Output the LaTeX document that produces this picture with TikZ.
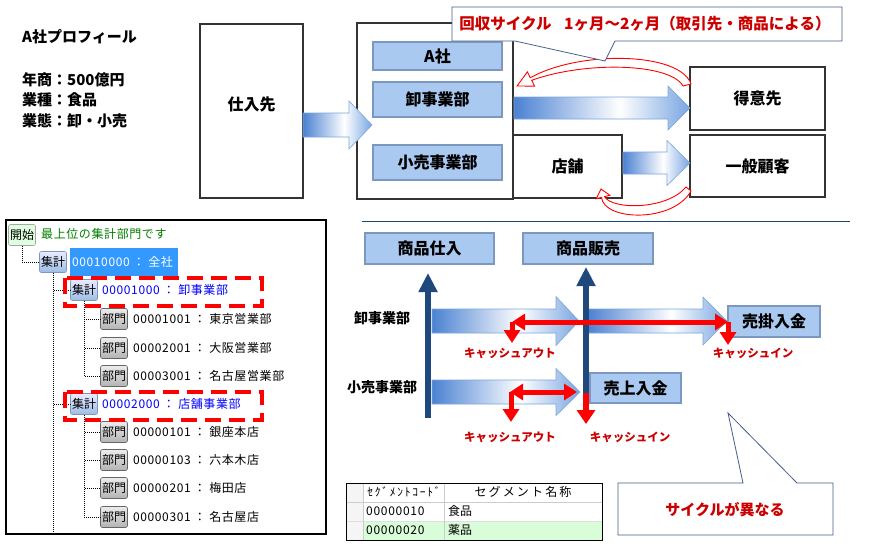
\documentclass[tikz,border=0pt]{standalone}
\usepackage{fontspec}
\setmainfont{Noto Sans CJK JP}
\usetikzlibrary{arrows.meta}
\definecolor{btnfill}{RGB}{170,201,240}
\definecolor{btnedge}{RGB}{125,152,190}
\definecolor{arrowblue}{RGB}{75,130,210}
\definecolor{arrowtip}{RGB}{120,165,225}
\definecolor{arrowedge}{RGB}{125,165,220}
\definecolor{navy}{RGB}{31,73,125}
\definecolor{redtext}{RGB}{204,0,0}
\definecolor{calloutc}{RGB}{70,95,135}
\definecolor{hlblue}{RGB}{51,153,255}
\definecolor{treegreen}{RGB}{0,128,0}
\definecolor{treeblue}{RGB}{0,0,255}
\definecolor{rowgreen}{RGB}{217,252,217}
\pgfdeclarehorizontalshading{barshade}{100bp}{color(0bp)=(arrowblue); color(25bp)=(arrowblue); color(55bp)=(white); color(75bp)=(arrowtip); color(100bp)=(arrowtip)}
\newcommand{\fsz}[1]{\fontsize{#1}{#1}\selectfont}
\newcommand{\gradarrow}[6]{%
  \shadedraw[shading=barshade, draw=arrowedge, line width=0.6pt]
    (#1,{#4-#5}) -- (#2,{#4-#5}) -- (#2,{#4-#6}) -- (#3,#4) -- (#2,{#4+#6}) -- (#2,{#4+#5}) -- (#1,{#4+#5}) -- cycle;}
\begin{document}
\begin{tikzpicture}[x=1pt,y=-1pt,
  frbox/.style={draw=black!80, line width=1.6pt, fill=white, inner sep=0pt, font=\fsz{16}\bfseries},
  bbtn/.style={fill=btnfill, draw=btnedge, line width=1.4pt, inner sep=0pt, font=\fsz{16}\bfseries},
  plbl/.style={anchor=west, inner sep=0pt, font=\fsz{15}\bfseries},
  rowlbl/.style={inner sep=0pt, font=\fsz{14}\bfseries},
  cash/.style={inner sep=0pt, text=redtext, font=\fsz{11.5}\bfseries},
  redline/.style={draw=red, line width=5pt},
  rtip/.style={-{Triangle[length=13pt,width=16pt]}},
  rtips/.style={{Triangle[length=13pt,width=16pt]}-{Triangle[length=13pt,width=16pt]}},
  navyarr/.style={draw=navy, line width=6pt, -{Triangle[length=19pt,width=18pt]}},
  callout/.style={draw=calloutc, line width=0.8pt, fill=white},
  crescent/.style={draw=red, line width=0.9pt, fill=white},
  tbtn/.style={rounded corners=2pt, minimum width=27pt, minimum height=21pt, inner sep=0pt, font=\fsz{12}, line width=0.6pt},
  tkaishi/.style={tbtn, fill=green!12!white, draw=gray!70},
  tshukei/.style={tbtn, top color=blue!8!white, bottom color=btnfill!90!navy, draw=btnedge},
  tbumon/.style={tbtn, top color=gray!15, bottom color=gray!60, draw=gray!80!black},
  ttext/.style={anchor=west, inner sep=0pt, font=\fsz{12}\addfontfeature{LetterSpace=5}},
  tdot/.style={draw=black, line width=0.6pt, dash pattern=on 1pt off 1pt},
  reddash/.style={draw=red, line width=3.5pt, dash pattern=on 16pt off 8pt},
  tcell/.style={inner sep=0pt, font=\fsz{12}}
]
\useasboundingbox (0,0) rectangle (874,550);
\fill[white] (0,0) rectangle (874,550);

% ---------- profile ----------
\node[plbl] (prof) at (22,37) {A社プロフィール};
\node[plbl] (p1) at (22,80) {年商：500億円};
\node[plbl] (p2) at (22,100) {業種：食品};
\node[plbl] (p3) at (22,121) {業態：卸・小売};

% ---------- top flow ----------
\node[frbox, minimum width=103pt, minimum height=174pt] (shiire) at (251.5,111) {};
\node[inner sep=0pt, font=\fsz{16}\bfseries] (shiiret) at (251.5,104) {仕入先};
\node[frbox, minimum width=156pt, minimum height=176pt] (asha) at (435,111) {};
\node[bbtn, minimum width=129pt, minimum height=28pt] (bA) at (437.5,56) {A社};
\node[bbtn, minimum width=129pt, minimum height=35pt] (bOroshi) at (437.5,99.5) {卸事業部};
\node[bbtn, minimum width=129pt, minimum height=35pt] (bKouri) at (437.5,162.5) {小売事業部};
\node[frbox, minimum width=109pt, minimum height=63pt] (tenpo) at (567.5,166.5) {店舗};
\node[frbox, minimum width=135pt, minimum height=63pt] (tokui) at (757.5,98.5) {得意先};
\node[frbox, minimum width=135pt, minimum height=62pt] (ippan) at (757.5,166) {一般顧客};

\gradarrow{303}{349}{372}{125}{12}{24}
\gradarrow{514}{668}{690}{108}{11}{22}
\gradarrow{623}{667}{690}{163}{11}{22.5}

% curved red arrows
\path[crescent] (530.3,77.7) .. controls (580,50) and (680,52) .. (691,84) -- (683,86)
  .. controls (670,63) and (585,61) .. (531.7,80.3) -- (534.6,86.1) -- (517,86) -- (527.4,71.9) -- cycle;
\path[crescent] (601.5,197.4) .. controls (604,221) and (673,223) .. (691,191) -- (686,187)
  .. controls (667,210) and (612,210) .. (604.5,196.6) -- (609.8,195.3) -- (601,189) -- (596.2,198.7) -- cycle;

% callout top
\draw[callout] (452,7) -- (842,7) -- (842,41) -- (615,41) -- (605,61) -- (515,41) -- (452,41) -- cycle;
\node[inner sep=0pt, text=redtext, font=\fsz{15.5}\bfseries] (cyc) at (645,24) {回収サイクル\hspace{0.8em}1ヶ月～2ヶ月（取引先・商品による）};

% separator
\coordinate (sepL) at (362,221);
\coordinate (sepR) at (850,221);
\draw[navy, line width=1pt] (sepL) -- (sepR);

% ---------- bottom flow ----------
\node[bbtn, minimum width=129pt, minimum height=31pt] (shS) at (429.5,248.5) {商品仕入};
\node[bbtn, minimum width=130pt, minimum height=31pt] (shH) at (588,248.5) {商品販売};

\node[rowlbl] (lOroshi) at (382,318) {卸事業部};
\node[rowlbl] (lKouri) at (382,387) {小売事業部};

\gradarrow{432}{556}{579}{321}{12}{24.5}
\gradarrow{588}{703}{727}{321}{12}{24}
\gradarrow{432}{556}{580}{392}{12}{23.5}

\node[bbtn, minimum width=92pt, minimum height=31pt] (urikake) at (774,321.5) {売掛入金};
\node[bbtn, minimum width=91pt, minimum height=30pt] (uriage) at (635.5,388) {売上入金};

\coordinate (v1b) at (428,418);
\coordinate (v1t) at (428,273);
\coordinate (v2b) at (586,393);
\coordinate (v2t) at (586,267);
\coordinate (v2r) at (586,424);
\draw[navyarr] (v1b) -- (v1t);
\draw[navyarr] (v2b) -- (v2t);
\draw[draw=red, line width=6pt, -{Triangle[length=14pt,width=18pt]}] (v2b) -- (v2r);

\coordinate (o1) at (512,322);
\coordinate (o2) at (728,322);
\coordinate (o1d) at (512,343);
\coordinate (o2d) at (728,345);
\coordinate (k1) at (510,392);
\coordinate (k2) at (577,392);
\coordinate (k1s) at (511,392);
\coordinate (k1d) at (511,422);
\draw[redline, rtip] (o1) -- (o1d);
\draw[redline, rtip] (o2) -- (o2d);
\draw[redline, rtips] (o1) -- (o2);
\draw[redline, rtip] (k1s) -- (k1d);
\draw[redline, rtips] (k1) -- (k2);

\node[cash] (co1) at (510,353) {キャッシュアウト};
\node[cash] (ci1) at (753,353) {キャッシュイン};
\node[cash] (co2) at (510,437) {キャッシュアウト};
\node[cash] (ci2) at (630,437) {キャッシュイン};

% callout bottom
\draw[callout] (618,483) -- (743,483) -- (728,413) -- (797,483) -- (833,483) -- (833,535) -- (618,535) -- cycle;
\node[inner sep=0pt, text=redtext, font=\fsz{15}\bfseries] (diff) at (725,510) {サイクルが異なる};

% ---------- tree ----------
\draw[black, line width=1.1pt] (6,220) rectangle (326,534);
\node[tkaishi] (k0) at (22,235) {開始};
\node[ttext, text=treegreen] (k0t) at (41,234) {最上位の集計部門です};
\node[tshukei] (s1) at (53,262) {集計};
\node[fill=hlblue, minimum width=108pt, minimum height=28pt, inner sep=0pt] (hl) at (124,262) {};
\node[ttext, text=white] (s1t) at (72,262) {00010000 ： 全社};
\node[tshukei] (s2) at (84,290) {集計};
\node[ttext, text=treeblue] (s2t) at (102,290) {00001000 ： 卸事業部};
\node[tbumon] (b1) at (114,319) {部門};
\node[ttext] (b1t) at (133,319) {00001001 ： 東京営業部};
\node[tbumon] (b2) at (114,348) {部門};
\node[ttext] (b2t) at (133,348) {00002001 ： 大阪営業部};
\node[tbumon] (b3) at (114,376) {部門};
\node[ttext] (b3t) at (133,376) {00003001 ： 名古屋営業部};
\node[tshukei] (s3) at (84,404) {集計};
\node[ttext, text=treeblue] (s3t) at (102,404) {00002000 ： 店舗事業部};
\node[tbumon] (b4) at (114,432) {部門};
\node[ttext] (b4t) at (133,432) {00000101 ： 銀座本店};
\node[tbumon] (b5) at (114,460) {部門};
\node[ttext] (b5t) at (133,460) {00000103 ： 六本木店};
\node[tbumon] (b6) at (114,488) {部門};
\node[ttext] (b6t) at (133,488) {00000201 ： 梅田店};
\node[tbumon] (b7) at (114,517) {部門};
\node[ttext] (b7t) at (133,517) {00000301 ： 名古屋店};
\coordinate (tb) at (53,533);

\draw[tdot] (k0.south) |- (s1.west);
\draw[tdot] (s1.south) -- (tb);
\draw[tdot] (s1.south) |- (s2.west);
\draw[tdot] (s1.south) |- (s3.west);
\draw[tdot] (s2.south) |- (b1.west);
\draw[tdot] (s2.south) |- (b2.west);
\draw[tdot] (s2.south) |- (b3.west);
\draw[tdot] (s3.south) |- (b4.west);
\draw[tdot] (s3.south) |- (b5.west);
\draw[tdot] (s3.south) |- (b6.west);
\draw[tdot] (s3.south) |- (b7.west);

\draw[reddash] (65,278) rectangle (262,306);
\draw[reddash] (65,392) rectangle (262,420);

% ---------- table ----------
\fill[gray!8] (346,483) rectangle (363,540);
\fill[rowgreen] (363,521) rectangle (602,540);
\draw[gray!40, line width=0.6pt] (346,502) -- (602,502);
\draw[gray!25, line width=0.6pt] (346,521) -- (602,521);
\draw[gray!40, line width=0.6pt] (363,483) -- (363,540);
\draw[gray!40, line width=0.6pt] (444,483) -- (444,540);
\draw[black, line width=1pt] (346,483) rectangle (602,540);
\node[tcell, font=\fsz{11.5}\addfontfeature{LetterSpace=15}] (h1) at (404,492) {ｾｸﾞﾒﾝﾄｺｰﾄﾞ};
\node[tcell] (h2) at (523,492) {\addfontfeature{LetterSpace=18}セグメント名称};
\node[tcell, anchor=west, font=\fsz{12}\addfontfeature{LetterSpace=6}] (r1a) at (366,511) {00000010};
\node[tcell, anchor=west] (r1b) at (448,511) {食品};
\node[tcell, anchor=west, font=\fsz{12}\addfontfeature{LetterSpace=6}] (r2a) at (366,530) {00000020};
\node[tcell, anchor=west] (r2b) at (448,530) {薬品};
\end{tikzpicture}
\end{document}
